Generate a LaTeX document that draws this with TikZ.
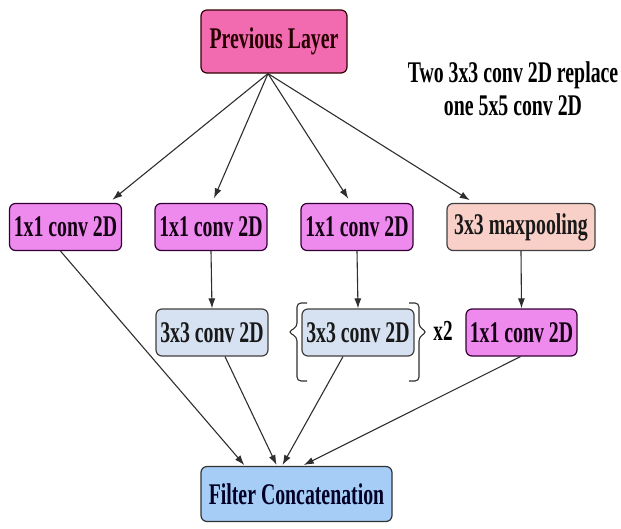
\documentclass[tikz,border=0pt]{standalone}
\usepackage{fontspec}
\setmainfont{Liberation Serif}[FakeStretch=0.66]
\usetikzlibrary{arrows.meta,calc}

\definecolor{layerpink}{HTML}{F26BB0}
\definecolor{convviolet}{HTML}{EE8AEE}
\definecolor{poolrose}{HTML}{F8D0C8}
\definecolor{convblue}{HTML}{D6E1F1}
\definecolor{concatblue}{HTML}{A6CDF5}
\definecolor{edgegray}{HTML}{2E2E2E}

\begin{document}
\begin{tikzpicture}[
  x=1pt, y=-1pt,
  box/.style={draw, rounded corners=6pt, line width=1.2pt, inner sep=0pt,
    font=\fontsize{30}{32}\selectfont\bfseries},
  prevbox/.style={box, fill=layerpink, draw=black!80!red, text=black!85!red,
    minimum width=146pt, minimum height=63pt},
  onebox/.style={box, fill=convviolet, draw=black!60!violet, text=black!85!violet,
    minimum width=112pt, minimum height=47pt},
  poolbox/.style={box, fill=poolrose, draw=black!75, text=black!90,
    minimum width=148pt, minimum height=47pt},
  threebox/.style={box, fill=convblue, draw=black!75, text=black!90,
    minimum width=112pt, minimum height=47pt},
  catbox/.style={box, fill=concatblue, draw=black!80, text=black!85!blue,
    minimum width=191pt, minimum height=55pt},
  arr/.style={draw=edgegray, line width=1.1pt, -{Latex[length=10pt,width=7pt]}},
  bracestyle/.style={draw=edgegray, line width=1.1pt, rounded corners=4pt},
  note/.style={font=\fontsize{30}{33}\selectfont\bfseries, align=center, inner sep=0pt}
]
\useasboundingbox (0,0) rectangle (621,528);

% nodes
\node[prevbox]  (prev) at (274,41.5)  {Previous Layer};
\node[onebox]   (a1)   at (65.5,227)  {1x1 conv 2D};
\node[onebox]   (b1)   at (211,227)   {1x1 conv 2D};
\node[onebox]   (c1)   at (357,227)   {1x1 conv 2D};
\node[poolbox]  (d1)   at (521,227)   {3x3 maxpooling};
\node[threebox] (b2)   at (212,332.5) {3x3 conv 2D};
\node[threebox] (c2)   at (358,332.5) {3x3 conv 2D};
\node[onebox, minimum width=111pt] (d2) at (521.5,332.5) {1x1 conv 2D};
\node[catbox]   (cat)  at (296.5,494) {Filter Concatenation};

\node[note] (remark) at (513,88.5) {Two 3x3 conv 2D replace\\one 5x5 conv 2D};
\node[font=\fontsize{29}{30}\selectfont\bfseries, inner sep=0pt] (times) at (443,331) {x2};

% fan-out from the previous layer
\coordinate (src) at ($(prev.south)+(-6,0)$);
\draw[arr, shorten >=5pt] (src) -- ($(a1.north)+(43,0)$);
\draw[arr, shorten >=5pt] (src) -- ($(b1.north)+(1,0)$);
\draw[arr, shorten >=5pt] (src) -- ($(c1.north)+(-6,0)$);
\draw[arr, shorten >=5pt] (src) -- ($(d1.north)+(-47,0)$);

% second stage
\draw[arr] (b1.south) -- (b2.north);
\draw[arr] (c1.south) -- (c2.north);
\draw[arr] (d1.south) -- (d2.north);

% into the concatenation
\draw[arr, shorten >=1pt] ($(a1.south)+(-5,0)$)  -- ($(cat.north)+(-51.5,0)$);
\draw[arr, shorten >=1pt] ($(b2.south)+(13,0)$)  -- ($(cat.north)+(-19.5,0)$);
\draw[arr, shorten >=1pt] ($(c2.south)+(-15,0)$) -- ($(cat.north)+(-14.5,0)$);
\draw[arr, shorten >=2pt] ($(d2.south)+(-1,0)$)  -- ($(cat.north)+(5.5,0)$);

% braces around the repeated 3x3 block
\draw[bracestyle] (307,303) -- (297,303) -- (297,327) -- (288,332) -- (297,337) -- (297,381) -- (307,381);
\draw[bracestyle] (409,303) -- (419,303) -- (419,327) -- (427,332) -- (419,337) -- (419,381) -- (409,381);
\end{tikzpicture}
\end{document}
